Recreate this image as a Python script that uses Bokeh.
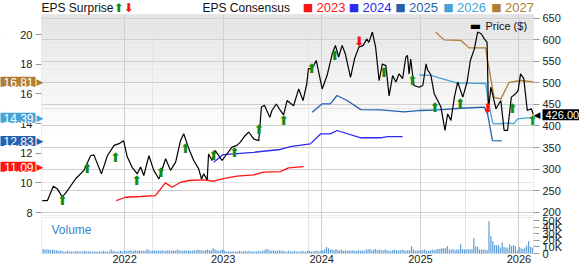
import pandas as pd
from bokeh.plotting import figure
from bokeh.models import (Range1d, LinearAxis, DatetimeAxis, FixedTicker, Grid, Label,
                          BoxAnnotation, DatetimeTickFormatter)
from bokeh.embed import file_html
from bokeh.resources import INLINE
from bokeh.core.properties import value

# ---------------- data ----------------
price_dates = [
    "2021-03-02", "2021-03-21", "2021-04-12", "2021-04-27", "2021-05-15", "2021-06-03", "2021-07-03",
    "2021-08-03", "2021-08-28", "2021-09-09", "2021-10-07", "2021-10-29", "2021-11-23", "2021-12-11",
    "2021-12-28",
    "2022-01-11", "2022-01-29", "2022-02-17", "2022-03-01", "2022-03-13", "2022-04-01", "2022-04-19",
    "2022-05-08", "2022-06-02", "2022-06-20", "2022-07-09", "2022-07-27", "2022-08-08", "2022-08-27",
    "2022-09-14", "2022-10-02", "2022-10-13", "2022-10-21", "2022-11-03", "2022-11-08", "2022-11-21",
    "2022-12-03", "2022-12-28",
    "2023-01-15", "2023-02-03", "2023-02-21", "2023-03-05", "2023-03-24", "2023-04-06", "2023-04-24",
    "2023-05-13", "2023-05-23", "2023-06-03", "2023-06-23", "2023-07-01", "2023-07-17", "2023-08-01",
    "2023-08-13", "2023-08-26", "2023-09-19", "2023-10-08", "2023-10-24", "2023-11-07", "2023-11-13",
    "2023-11-26", "2023-12-12",
    "2024-01-03", "2024-01-21", "2024-02-09", "2024-02-21", "2024-03-04", "2024-03-17", "2024-03-29",
    "2024-04-17", "2024-05-02", "2024-05-18", "2024-06-03", "2024-06-16", "2024-06-24", "2024-07-07",
    "2024-07-19", "2024-08-01", "2024-08-13", "2024-08-26", "2024-09-07", "2024-09-20", "2024-10-02",
    "2024-10-14", "2024-10-27", "2024-11-08", "2024-11-14", "2024-11-20", "2024-11-26", "2024-12-08",
    "2024-12-27",
    "2025-01-10", "2025-01-22", "2025-01-28", "2025-02-03", "2025-02-09", "2025-02-21", "2025-03-06",
    "2025-03-18", "2025-04-02", "2025-04-12", "2025-04-24", "2025-05-07", "2025-05-19", "2025-06-07",
    "2025-06-23", "2025-07-05", "2025-07-20", "2025-08-01", "2025-08-14", "2025-08-26", "2025-09-05",
    "2025-09-10", "2025-09-19", "2025-10-08", "2025-10-26", "2025-11-07", "2025-11-20", "2025-12-04",
    "2025-12-20", "2025-12-29",
    "2026-01-07", "2026-01-19", "2026-02-01", "2026-02-16", "2026-02-24",
]
price_values = [
    227, 227, 260, 254, 235, 250, 277, 297, 331, 333, 289, 331, 355, 359, 366,
    328, 304, 289, 305, 285, 331, 297, 277, 324, 297, 316, 366, 382, 347, 320, 301, 277, 289, 275,
    335, 320, 343, 320,
    335, 351, 355, 362, 378, 386, 370, 366, 444, 448, 420, 436, 451, 436, 426, 459, 447, 486, 459,
    498, 533, 533, 552,
    486, 517, 567, 587, 560, 587, 567, 513, 556, 583, 587, 602, 594, 618, 583, 505, 544, 540, 470,
    517, 502, 521, 510, 560, 564, 521, 555, 494, 490,
    494, 544, 529, 525, 517, 475, 459, 444, 390, 428, 413, 467, 502, 467, 502, 552, 579, 618, 614,
    602, 594, 436, 490, 440, 459, 390, 390, 467, 475, 482,
    521, 510, 436, 440, 426.00,
]

beat_dates = ["2021-05-16", "2021-08-15", "2021-11-28", "2022-02-15", "2022-05-16", "2022-08-14",
              "2022-11-27", "2023-02-12", "2023-05-14", "2023-08-13", "2023-11-25", "2024-02-18",
              "2024-08-19", "2024-12-02", "2025-02-24", "2025-05-28", "2025-12-08", "2026-02-21"]
beat_prices = [227, 301, 327, 274, 293, 348, 332, 339, 393, 413, 533, 564, 525, 506, 442, 452, 440, 413]
miss_dates = ["2024-05-19", "2025-09-07"]
miss_prices = [597, 440]

eps2023_dates = ["2021-12-01", "2022-01-04", "2022-03-01", "2022-04-25", "2022-06-01", "2022-06-26",
                 "2022-07-27", "2022-08-27", "2022-10-21", "2022-11-27", "2022-12-28", "2023-02-21",
                 "2023-04-24", "2023-05-31", "2023-08-01", "2023-08-31", "2023-10-26"]
eps2023_values = [8.81, 9.03, 9.08, 9.14, 10.00, 9.70, 10.04, 10.16, 10.20, 10.11, 10.27, 10.45,
                  10.54, 10.72, 10.76, 11.01, 11.09]
eps2024_dates = ["2022-11-27", "2023-01-01", "2023-02-09", "2023-04-24", "2023-08-01", "2023-09-07",
                 "2023-11-20", "2023-12-28", "2024-02-02", "2024-02-27", "2024-05-25", "2024-08-07",
                 "2024-09-01", "2024-10-27"]
eps2024_values = [11.39, 11.91, 11.96, 12.06, 12.25, 12.45, 12.63, 13.30, 13.30, 13.53, 13.04, 13.04,
                  13.12, 13.12]
eps2025_dates = ["2023-11-27", "2024-01-03", "2024-02-02", "2024-02-27", "2024-04-04", "2024-05-25",
                 "2024-08-07", "2024-11-02", "2025-01-03", "2025-03-06", "2025-05-31", "2025-08-26",
                 "2025-09-07", "2025-09-25", "2025-10-29"]
eps2025_values = [14.76, 15.33, 15.33, 15.89, 15.55, 14.94, 14.92, 14.78, 14.88, 14.92, 15.03, 15.10,
                  14.65, 12.85, 12.83]
eps2026_dates = ["2024-12-28", "2025-02-09", "2025-03-18", "2025-05-19", "2025-06-25", "2025-08-31",
                 "2025-09-07", "2025-09-25", "2025-10-01", "2025-11-20", "2025-12-14", "2025-12-27",
                 "2026-02-01", "2026-02-24"]
eps2026_values = [17.27, 17.24, 17.05, 16.72, 16.72, 16.70, 15.77, 14.09, 13.98, 14.02, 14.00, 14.31,
                  14.38, 14.39]
eps2027_dates = ["2025-02-27", "2025-03-30", "2025-05-31", "2025-07-01", "2025-08-31", "2025-09-07",
                 "2025-10-01", "2025-10-26", "2025-11-26", "2026-01-07", "2026-02-24"]
eps2027_values = [20.16, 19.64, 19.60, 19.10, 19.10, 18.25, 15.77, 15.66, 16.78, 16.90, 16.81]

# weekly volume (thousands), one bar per week starting 2021-03-05
volume_k = [
    # 2021
    7, 6, 6, 6, 5, 6, 5, 5, 4, 4, 4, 3, 3, 4, 3, 3, 3, 3, 4, 3, 3, 3, 4, 3, 3, 3, 3, 3, 3, 3,
    3, 3, 4, 3, 3, 3, 6, 4, 3, 3, 3, 4, 3, 4,
    # 2022
    4, 4, 5, 4, 4, 5, 4, 5, 4, 4, 4, 7, 5, 4, 4, 5, 4, 5, 4, 5, 4, 4, 5, 5, 4, 5, 4, 6, 5, 4,
    4, 5, 4, 5, 4, 4, 5, 5, 6, 5, 5, 4, 5, 6, 5, 5, 8, 6, 5, 4, 5, 6,
    # 2023
    4, 3, 3, 3, 3, 3, 3, 3, 4, 3, 3, 4, 3, 4, 3, 3, 3, 3, 4, 3, 4, 5, 7, 6, 5, 4, 5, 4, 4, 5,
    4, 4, 3, 3, 4, 3, 3, 4, 3, 3, 3, 4, 3, 3, 4, 4, 3, 3, 4, 4, 3, 4,
    # 2024
    5, 6, 10, 8, 6, 6, 5, 7, 5, 5, 6, 4, 5, 4, 5, 4, 5, 4, 4, 5, 4, 5, 4, 6, 6, 7, 5, 6, 7, 5,
    6, 5, 5, 6, 5, 4, 4, 5, 6, 5, 4, 5, 6, 5, 4, 5, 5, 11, 6, 4, 5, 4,
    # 2025
    5, 5, 6, 4, 4, 5, 6, 5, 6, 7, 7, 8, 8, 8, 11, 6, 6, 7, 5, 6, 6, 14, 7, 6, 6, 7, 6, 7, 24, 11,
    10, 6, 6, 6, 6, 5, 49, 26, 19, 13, 12, 13, 9, 17, 10, 9, 8, 14, 11, 13, 11, 4,
    # 2026
    10, 8, 7, 9, 12, 19, 10, 9,
]
volume_dates = pd.date_range("2021-03-05", periods=len(volume_k), freq="7D")

year_ticks = [2022, 2023, 2024, 2025, 2026]
eps_ticks = [8, 10, 12, 14, 16, 18, 20]
price_ticks = [200, 250, 300, 350, 400, 450, 500, 550, 600, 650]
vol_ticks = [0, 10, 20, 30, 40, 50]
vol_tick_labels = ["0", "10K", "20K", "30K", "40K", "50K"]
legend_years = ["2023", "2024", "2025", "2026", "2027"]

# ---------------- layout constants (pixels) ----------------
FONT = "Liberation Sans"
C = {"2023": "#ff1414", "2024": "#2a2af2", "2025": "#2462ad", "2026": "#45a3d5", "2027": "#b07d35"}
GREEN = "#138a13"
RED = "#ff1010"
GRID = "#cfcfcf"
FRAME = "#c4c4c4"
TXT = "#222222"

W, H = 579, 264
FL, FR = 41, 533            # data area left / right
FT, FB = 14, 215            # price panel top / bottom
VT, VB = 217, 253           # volume panel top / bottom (0 line)
X_START, X_END = pd.Timestamp("2021-02-27"), pd.Timestamp("2026-02-24")
EPS_LO, EPS_HI = 7.8, 21.35
PRICE_LO, PRICE_HI = 192.3, 658.7
VOL_PER_PX = 50 / 33.0


def ms(d):
    return pd.Timestamp(d).value / 1e6


KX = (ms(X_END) - ms(X_START)) / (FR - FL)
XL = ms(X_START) - FL * KX
XR = ms(X_END) + (W - FR) * KX
EU = (EPS_HI - EPS_LO) / (FB - FT)
PU = (PRICE_HI - PRICE_LO) / (FB - FT)


def xpx(px):
    return XL + px * KX


def eps_py(py):
    return EPS_HI - (py - FT) * EU


def vol_py(py):
    return (VB - py) * VOL_PER_PX


year_ms = [ms(f"{y}-01-01") for y in year_ticks]

p = figure(width=W, height=H, x_axis_location=None, y_axis_location=None,
           x_range=Range1d(XL, XR),
           y_range=Range1d(EPS_LO - (H - FB) * EU, EPS_HI + FT * EU),
           output_backend="svg", toolbar_location=None, min_border=0)
p.extra_y_ranges = {
    "price": Range1d(PRICE_LO - (H - FB) * PU, PRICE_HI + FT * PU),
    "vol": Range1d(vol_py(H), vol_py(0)),
}
p.outline_line_color = None
p.background_fill_color = "white"
p.border_fill_color = "white"

# soft vertical gradient behind the price panel
NB = 24
span = (EPS_HI - EPS_LO) * 0.62
for i in range(NB):
    shade = int(0xe4 + (0xff - 0xe4) * i / (NB - 1))
    p.add_layout(BoxAnnotation(left=ms(X_START), right=ms(X_END),
                               top=EPS_HI - i * span / NB, bottom=EPS_HI - (i + 1) * span / NB,
                               fill_color="#%02x%02x%02x" % (shade, shade, shade), fill_alpha=1.0,
                               line_color=None, level="image"))

# grids
p.add_layout(Grid(dimension=0, ticker=FixedTicker(ticks=year_ms), grid_line_color=GRID))
p.add_layout(Grid(dimension=1, ticker=FixedTicker(ticks=price_ticks), y_range_name="price",
                  grid_line_color=GRID))
# keep grid lines inside the panels
for kw in [dict(right=ms(X_START)), dict(left=ms(X_END)), dict(bottom=eps_py(FT)),
           dict(top=eps_py(VB))]:
    p.add_layout(BoxAnnotation(fill_color="white", fill_alpha=1.0, line_color=None,
                               level="underlay", **kw))


def style_axis(ax, tick_out=6, standoff=3):
    ax.axis_line_color = None
    ax.major_tick_line_color = "#9a9a9a"
    ax.major_tick_out = tick_out
    ax.major_tick_in = 0
    ax.minor_tick_line_color = None
    ax.major_label_standoff = standoff
    ax.major_label_text_font = FONT
    ax.major_label_text_font_size = "11px"
    ax.major_label_text_color = TXT


ax_eps = LinearAxis(ticker=FixedTicker(ticks=eps_ticks), fixed_location=ms(X_START))
style_axis(ax_eps)
p.add_layout(ax_eps, "left")

ax_price = LinearAxis(ticker=FixedTicker(ticks=price_ticks), y_range_name="price",
                      fixed_location=ms(X_END))
style_axis(ax_price)
p.add_layout(ax_price, "right")

ax_vol = LinearAxis(ticker=FixedTicker(ticks=vol_ticks), y_range_name="vol",
                    fixed_location=ms(X_END))
ax_vol.major_label_overrides = {t: s for t, s in zip(vol_ticks, vol_tick_labels)}
style_axis(ax_vol)
p.add_layout(ax_vol, "right")

ax_x = DatetimeAxis(ticker=FixedTicker(ticks=year_ms), y_range_name="vol", fixed_location=0,
                    formatter=DatetimeTickFormatter(years="%Y", months="%Y", days="%Y", hours="%Y"))
style_axis(ax_x, tick_out=0, standoff=1)
ax_x.major_tick_line_color = None
p.add_layout(ax_x, "below")

# ---------------- marks ----------------
series = [("2023", eps2023_dates, eps2023_values), ("2024", eps2024_dates, eps2024_values),
          ("2025", eps2025_dates, eps2025_values), ("2026", eps2026_dates, eps2026_values),
          ("2027", eps2027_dates, eps2027_values)]
for yr, d, v in series:
    p.line(pd.to_datetime(d), v, line_color=C[yr], line_width=1.3)

p.line(pd.to_datetime(price_dates), price_values, y_range_name="price", line_color="black",
       line_width=1.2)

p.text(x=pd.to_datetime(beat_dates), y=beat_prices, text=["⬆"] * len(beat_dates),
       y_range_name="price", text_font=value("DejaVu Sans"), text_font_size="13px",
       text_align="center", text_baseline="middle", text_color=GREEN)
p.text(x=pd.to_datetime(miss_dates), y=miss_prices, text=["⬇"] * len(miss_dates),
       y_range_name="price", text_font=value("DejaVu Sans"), text_font_size="13px",
       text_align="center", text_baseline="middle", text_color=RED)

p.vbar(x=volume_dates, top=volume_k, width=4.3 * 24 * 3600 * 1000, y_range_name="vol",
       fill_color="#5b9bd5", line_color=None)

# panel frames
p.add_layout(BoxAnnotation(left=ms(X_START), right=ms(X_END), top=eps_py(FT), bottom=eps_py(FB),
                           fill_alpha=0, line_color=FRAME, line_width=1))
p.add_layout(BoxAnnotation(left=ms(X_START), right=ms(X_END), top=vol_py(VT), bottom=0,
                           y_range_name="vol", fill_alpha=0, line_color=FRAME, line_width=1))

# ---------------- texts ----------------
ty = eps_py(7)
p.add_layout(Label(x=xpx(41), y=ty, text="EPS Surprise", text_font=FONT, text_font_size="12px",
                   text_baseline="middle", text_color="#111111"))
p.add_layout(Label(x=xpx(118), y=ty, text="⬆", text_font="DejaVu Sans", text_font_size="12px",
                   text_align="center", text_baseline="middle", text_color=GREEN))
p.add_layout(Label(x=xpx(128), y=ty, text="⬇", text_font="DejaVu Sans", text_font_size="12px",
                   text_align="center", text_baseline="middle", text_color=RED))
p.add_layout(Label(x=xpx(202), y=ty, text="EPS Consensus", text_font=FONT, text_font_size="12px",
                   text_baseline="middle", text_color="#111111"))
sq_x = [307.5, 353.5, 400, 448, 496]
for yr, sx in zip(legend_years, sq_x):
    p.add_layout(Label(x=xpx(sx), y=ty, text="■", text_font="DejaVu Sans", text_font_size="11px",
                       text_align="center", text_baseline="middle", text_color=C[yr]))
    p.add_layout(Label(x=xpx(sx + 8.5), y=ty, text=yr, text_font=FONT, text_font_size="13px",
                       text_baseline="middle", text_color=C[yr]))

p.add_layout(Label(x=xpx(475), y=eps_py(25), text="▬", text_font="DejaVu Sans",
                   text_font_size="12px", text_align="center", text_baseline="middle",
                   text_color="black"))
p.add_layout(Label(x=xpx(485), y=eps_py(25), text="Price ($)", text_font=FONT,
                   text_font_size="11px", text_baseline="middle", text_color="#111111"))

p.add_layout(Label(x=xpx(51), y=vol_py(229), y_range_name="vol", text="Volume", text_font=FONT,
                   text_font_size="12px", text_baseline="middle", text_color="#3a86c8"))

# last-value labels on the EPS axis
for yr, d, v in [series[4], series[3], series[2], series[0]]:
    last = v[-1]
    p.add_layout(Label(x=xpx(35), y=last, text=f"{last:.2f}", text_font=FONT,
                       text_font_size="12px", text_align="right", text_baseline="middle",
                       text_color="white", background_fill_color=C[yr],
                       padding=dict(left=5, right=2, top=1, bottom=0)))
    p.add_layout(Label(x=xpx(36), y=last, text="▶", text_font="DejaVu Sans",
                       text_font_size="9px", text_align="left", text_baseline="middle",
                       text_color=C[yr]))

# last price label on the price axis
last_p = price_values[-1]
p.add_layout(Label(x=xpx(542), y=last_p, y_range_name="price", text=f"{last_p:.2f}",
                   text_font=FONT, text_font_size="11px", text_align="left",
                   text_baseline="middle", text_color="white", background_fill_color="black",
                   padding=dict(left=3, right=2, top=2, bottom=1)))
p.add_layout(Label(x=xpx(540), y=last_p, y_range_name="price", text="◀", text_font="DejaVu Sans",
                   text_font_size="9px", text_align="right", text_baseline="middle",
                   text_color="black"))

open("out.html", "w").write(file_html(p, INLINE))
